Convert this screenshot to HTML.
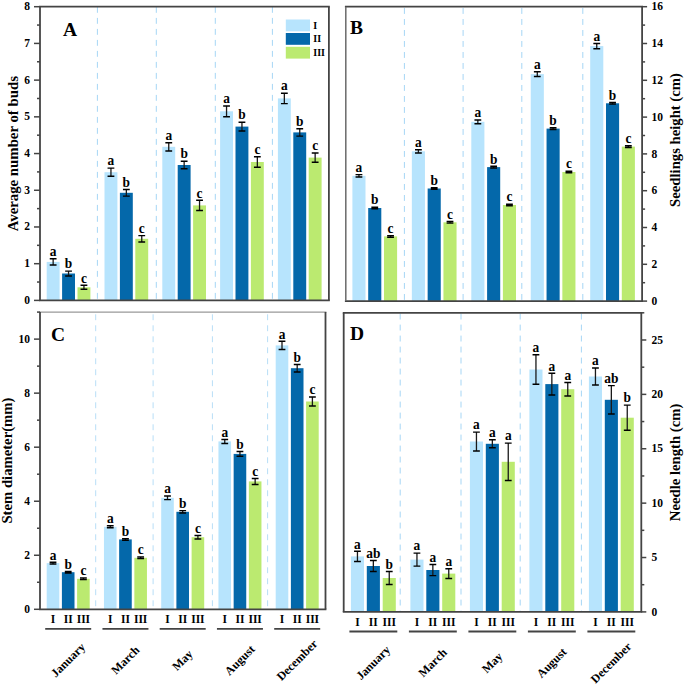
<!DOCTYPE html>
<html><head><meta charset="utf-8"><style>
html,body{margin:0;padding:0;background:#fff;}
svg{display:block;}
</style></head><body>
<svg width="685" height="686" viewBox="0 0 685 686">
<rect width="685" height="686" fill="#fff"/>
<line x1="97.4" y1="6.90" x2="97.4" y2="300.4" stroke="#a6d6f5" stroke-width="1" stroke-dasharray="5.9 5.1"/>
<line x1="156.3" y1="6.90" x2="156.3" y2="300.4" stroke="#a6d6f5" stroke-width="1" stroke-dasharray="5.9 5.1"/>
<line x1="215.3" y1="6.90" x2="215.3" y2="300.4" stroke="#a6d6f5" stroke-width="1" stroke-dasharray="5.9 5.1"/>
<line x1="272.4" y1="6.90" x2="272.4" y2="300.4" stroke="#a6d6f5" stroke-width="1" stroke-dasharray="5.9 5.1"/>
<rect x="46.70" y="261.9" width="12.9" height="38.50" fill="#b7e4fd"/>
<rect x="62.10" y="273.5" width="12.9" height="26.90" fill="#0468aa"/>
<rect x="77.50" y="287.3" width="12.9" height="13.10" fill="#bbea70"/>
<rect x="104.50" y="172.2" width="12.9" height="128.20" fill="#b7e4fd"/>
<rect x="119.90" y="192.8" width="12.9" height="107.60" fill="#0468aa"/>
<rect x="135.30" y="238.8" width="12.9" height="61.60" fill="#bbea70"/>
<rect x="162.30" y="146.8" width="12.9" height="153.60" fill="#b7e4fd"/>
<rect x="177.70" y="165.0" width="12.9" height="135.40" fill="#0468aa"/>
<rect x="193.10" y="205.4" width="12.9" height="95.00" fill="#bbea70"/>
<rect x="220.10" y="111.3" width="12.9" height="189.10" fill="#b7e4fd"/>
<rect x="235.50" y="126.6" width="12.9" height="173.80" fill="#0468aa"/>
<rect x="250.90" y="162.0" width="12.9" height="138.40" fill="#bbea70"/>
<rect x="277.90" y="98.4" width="12.9" height="202.00" fill="#b7e4fd"/>
<rect x="293.30" y="132.4" width="12.9" height="168.00" fill="#0468aa"/>
<rect x="308.70" y="157.6" width="12.9" height="142.80" fill="#bbea70"/>
<path d="M53.15 258.80V265.00" stroke="#1a1a1a" stroke-width="1.3" fill="none"/>
<path d="M49.75 258.80h6.8M49.75 265.00h6.8" stroke="#000" stroke-width="1.45" fill="none"/>
<text transform="translate(53.15,256.00) scale(1,1.1)" text-anchor="middle" style="font-family:'Liberation Serif',serif;font-weight:bold;font-size:13.4px">a</text>
<path d="M68.55 271.10V275.90" stroke="#1a1a1a" stroke-width="1.3" fill="none"/>
<path d="M65.15 271.10h6.8M65.15 275.90h6.8" stroke="#000" stroke-width="1.45" fill="none"/>
<text transform="translate(68.55,268.30) scale(1,1.1)" text-anchor="middle" style="font-family:'Liberation Serif',serif;font-weight:bold;font-size:13.4px">b</text>
<path d="M83.95 285.30V289.30" stroke="#1a1a1a" stroke-width="1.3" fill="none"/>
<path d="M80.55 285.30h6.8M80.55 289.30h6.8" stroke="#000" stroke-width="1.45" fill="none"/>
<text transform="translate(83.95,282.50) scale(1,1.1)" text-anchor="middle" style="font-family:'Liberation Serif',serif;font-weight:bold;font-size:13.4px">c</text>
<path d="M110.95 168.10V176.30" stroke="#1a1a1a" stroke-width="1.3" fill="none"/>
<path d="M107.55 168.10h6.8M107.55 176.30h6.8" stroke="#000" stroke-width="1.45" fill="none"/>
<text transform="translate(110.95,165.30) scale(1,1.1)" text-anchor="middle" style="font-family:'Liberation Serif',serif;font-weight:bold;font-size:13.4px">a</text>
<path d="M126.35 189.50V196.10" stroke="#1a1a1a" stroke-width="1.3" fill="none"/>
<path d="M122.95 189.50h6.8M122.95 196.10h6.8" stroke="#000" stroke-width="1.45" fill="none"/>
<text transform="translate(126.35,186.70) scale(1,1.1)" text-anchor="middle" style="font-family:'Liberation Serif',serif;font-weight:bold;font-size:13.4px">b</text>
<path d="M141.75 235.60V242.00" stroke="#1a1a1a" stroke-width="1.3" fill="none"/>
<path d="M138.35 235.60h6.8M138.35 242.00h6.8" stroke="#000" stroke-width="1.45" fill="none"/>
<text transform="translate(141.75,232.80) scale(1,1.1)" text-anchor="middle" style="font-family:'Liberation Serif',serif;font-weight:bold;font-size:13.4px">c</text>
<path d="M168.75 142.70V150.90" stroke="#1a1a1a" stroke-width="1.3" fill="none"/>
<path d="M165.35 142.70h6.8M165.35 150.90h6.8" stroke="#000" stroke-width="1.45" fill="none"/>
<text transform="translate(168.75,139.90) scale(1,1.1)" text-anchor="middle" style="font-family:'Liberation Serif',serif;font-weight:bold;font-size:13.4px">a</text>
<path d="M184.15 161.20V168.80" stroke="#1a1a1a" stroke-width="1.3" fill="none"/>
<path d="M180.75 161.20h6.8M180.75 168.80h6.8" stroke="#000" stroke-width="1.45" fill="none"/>
<text transform="translate(184.15,158.40) scale(1,1.1)" text-anchor="middle" style="font-family:'Liberation Serif',serif;font-weight:bold;font-size:13.4px">b</text>
<path d="M199.55 200.30V210.50" stroke="#1a1a1a" stroke-width="1.3" fill="none"/>
<path d="M196.15 200.30h6.8M196.15 210.50h6.8" stroke="#000" stroke-width="1.45" fill="none"/>
<text transform="translate(199.55,197.50) scale(1,1.1)" text-anchor="middle" style="font-family:'Liberation Serif',serif;font-weight:bold;font-size:13.4px">c</text>
<path d="M226.55 105.90V116.70" stroke="#1a1a1a" stroke-width="1.3" fill="none"/>
<path d="M223.15 105.90h6.8M223.15 116.70h6.8" stroke="#000" stroke-width="1.45" fill="none"/>
<text transform="translate(226.55,103.10) scale(1,1.1)" text-anchor="middle" style="font-family:'Liberation Serif',serif;font-weight:bold;font-size:13.4px">a</text>
<path d="M241.95 122.20V131.00" stroke="#1a1a1a" stroke-width="1.3" fill="none"/>
<path d="M238.55 122.20h6.8M238.55 131.00h6.8" stroke="#000" stroke-width="1.45" fill="none"/>
<text transform="translate(241.95,119.40) scale(1,1.1)" text-anchor="middle" style="font-family:'Liberation Serif',serif;font-weight:bold;font-size:13.4px">b</text>
<path d="M257.35 156.80V167.20" stroke="#1a1a1a" stroke-width="1.3" fill="none"/>
<path d="M253.95 156.80h6.8M253.95 167.20h6.8" stroke="#000" stroke-width="1.45" fill="none"/>
<text transform="translate(257.35,154.00) scale(1,1.1)" text-anchor="middle" style="font-family:'Liberation Serif',serif;font-weight:bold;font-size:13.4px">c</text>
<path d="M284.35 93.20V103.60" stroke="#1a1a1a" stroke-width="1.3" fill="none"/>
<path d="M280.95 93.20h6.8M280.95 103.60h6.8" stroke="#000" stroke-width="1.45" fill="none"/>
<text transform="translate(284.35,90.40) scale(1,1.1)" text-anchor="middle" style="font-family:'Liberation Serif',serif;font-weight:bold;font-size:13.4px">a</text>
<path d="M299.75 128.70V136.10" stroke="#1a1a1a" stroke-width="1.3" fill="none"/>
<path d="M296.35 128.70h6.8M296.35 136.10h6.8" stroke="#000" stroke-width="1.45" fill="none"/>
<text transform="translate(299.75,125.90) scale(1,1.1)" text-anchor="middle" style="font-family:'Liberation Serif',serif;font-weight:bold;font-size:13.4px">b</text>
<path d="M315.15 153.00V162.20" stroke="#1a1a1a" stroke-width="1.3" fill="none"/>
<path d="M311.75 153.00h6.8M311.75 162.20h6.8" stroke="#000" stroke-width="1.45" fill="none"/>
<text transform="translate(315.15,150.20) scale(1,1.1)" text-anchor="middle" style="font-family:'Liberation Serif',serif;font-weight:bold;font-size:13.4px">c</text>
<path d="M39.1 6.7H329.79999999999995" stroke="#444444" stroke-width="1.8"/>
<path d="M39.1 300.4H329.79999999999995" stroke="#444444" stroke-width="1.8"/>
<path d="M40.0 6.7V300.4" stroke="#444444" stroke-width="1.8"/>
<path d="M328.9 6.7V300.4" stroke="#444444" stroke-width="1.8"/>
<line x1="404.4" y1="8.00" x2="404.4" y2="301.1" stroke="#a6d6f5" stroke-width="1" stroke-dasharray="5.9 5.1"/>
<line x1="463.1" y1="8.00" x2="463.1" y2="301.1" stroke="#a6d6f5" stroke-width="1" stroke-dasharray="5.9 5.1"/>
<line x1="521.8" y1="8.00" x2="521.8" y2="301.1" stroke="#a6d6f5" stroke-width="1" stroke-dasharray="5.9 5.1"/>
<line x1="582.8" y1="8.00" x2="582.8" y2="301.1" stroke="#a6d6f5" stroke-width="1" stroke-dasharray="5.9 5.1"/>
<rect x="352.40" y="175.8" width="13.1" height="125.30" fill="#b7e4fd"/>
<rect x="368.20" y="208.0" width="13.1" height="93.10" fill="#0468aa"/>
<rect x="384.00" y="236.4" width="13.1" height="64.70" fill="#bbea70"/>
<rect x="411.85" y="151.3" width="13.1" height="149.80" fill="#b7e4fd"/>
<rect x="427.65" y="188.5" width="13.1" height="112.60" fill="#0468aa"/>
<rect x="443.45" y="222.3" width="13.1" height="78.80" fill="#bbea70"/>
<rect x="471.30" y="121.8" width="13.1" height="179.30" fill="#b7e4fd"/>
<rect x="487.10" y="167.1" width="13.1" height="134.00" fill="#0468aa"/>
<rect x="502.90" y="205.0" width="13.1" height="96.10" fill="#bbea70"/>
<rect x="530.75" y="74.1" width="13.1" height="227.00" fill="#b7e4fd"/>
<rect x="546.55" y="128.6" width="13.1" height="172.50" fill="#0468aa"/>
<rect x="562.35" y="172.0" width="13.1" height="129.10" fill="#bbea70"/>
<rect x="590.20" y="46.1" width="13.1" height="255.00" fill="#b7e4fd"/>
<rect x="606.00" y="103.3" width="13.1" height="197.80" fill="#0468aa"/>
<rect x="621.80" y="146.6" width="13.1" height="154.50" fill="#bbea70"/>
<path d="M358.95 174.60V177.00" stroke="#1a1a1a" stroke-width="1.3" fill="none"/>
<path d="M355.55 174.60h6.8M355.55 177.00h6.8" stroke="#000" stroke-width="1.45" fill="none"/>
<text transform="translate(358.95,171.80) scale(1,1.1)" text-anchor="middle" style="font-family:'Liberation Serif',serif;font-weight:bold;font-size:13.4px">a</text>
<path d="M374.75 207.20V208.80" stroke="#1a1a1a" stroke-width="1.3" fill="none"/>
<path d="M371.35 207.20h6.8M371.35 208.80h6.8" stroke="#000" stroke-width="1.45" fill="none"/>
<text transform="translate(374.75,204.40) scale(1,1.1)" text-anchor="middle" style="font-family:'Liberation Serif',serif;font-weight:bold;font-size:13.4px">b</text>
<path d="M390.55 235.60V237.20" stroke="#1a1a1a" stroke-width="1.3" fill="none"/>
<path d="M387.15 235.60h6.8M387.15 237.20h6.8" stroke="#000" stroke-width="1.45" fill="none"/>
<text transform="translate(390.55,232.80) scale(1,1.1)" text-anchor="middle" style="font-family:'Liberation Serif',serif;font-weight:bold;font-size:13.4px">c</text>
<path d="M418.40 149.70V152.90" stroke="#1a1a1a" stroke-width="1.3" fill="none"/>
<path d="M415.00 149.70h6.8M415.00 152.90h6.8" stroke="#000" stroke-width="1.45" fill="none"/>
<text transform="translate(418.40,146.90) scale(1,1.1)" text-anchor="middle" style="font-family:'Liberation Serif',serif;font-weight:bold;font-size:13.4px">a</text>
<path d="M434.20 187.70V189.30" stroke="#1a1a1a" stroke-width="1.3" fill="none"/>
<path d="M430.80 187.70h6.8M430.80 189.30h6.8" stroke="#000" stroke-width="1.45" fill="none"/>
<text transform="translate(434.20,184.90) scale(1,1.1)" text-anchor="middle" style="font-family:'Liberation Serif',serif;font-weight:bold;font-size:13.4px">b</text>
<path d="M450.00 221.50V223.10" stroke="#1a1a1a" stroke-width="1.3" fill="none"/>
<path d="M446.60 221.50h6.8M446.60 223.10h6.8" stroke="#000" stroke-width="1.45" fill="none"/>
<text transform="translate(450.00,218.70) scale(1,1.1)" text-anchor="middle" style="font-family:'Liberation Serif',serif;font-weight:bold;font-size:13.4px">c</text>
<path d="M477.85 119.90V123.70" stroke="#1a1a1a" stroke-width="1.3" fill="none"/>
<path d="M474.45 119.90h6.8M474.45 123.70h6.8" stroke="#000" stroke-width="1.45" fill="none"/>
<text transform="translate(477.85,117.10) scale(1,1.1)" text-anchor="middle" style="font-family:'Liberation Serif',serif;font-weight:bold;font-size:13.4px">a</text>
<path d="M493.65 166.30V167.90" stroke="#1a1a1a" stroke-width="1.3" fill="none"/>
<path d="M490.25 166.30h6.8M490.25 167.90h6.8" stroke="#000" stroke-width="1.45" fill="none"/>
<text transform="translate(493.65,163.50) scale(1,1.1)" text-anchor="middle" style="font-family:'Liberation Serif',serif;font-weight:bold;font-size:13.4px">b</text>
<path d="M509.45 204.20V205.80" stroke="#1a1a1a" stroke-width="1.3" fill="none"/>
<path d="M506.05 204.20h6.8M506.05 205.80h6.8" stroke="#000" stroke-width="1.45" fill="none"/>
<text transform="translate(509.45,201.40) scale(1,1.1)" text-anchor="middle" style="font-family:'Liberation Serif',serif;font-weight:bold;font-size:13.4px">c</text>
<path d="M537.30 71.80V76.40" stroke="#1a1a1a" stroke-width="1.3" fill="none"/>
<path d="M533.90 71.80h6.8M533.90 76.40h6.8" stroke="#000" stroke-width="1.45" fill="none"/>
<text transform="translate(537.30,69.00) scale(1,1.1)" text-anchor="middle" style="font-family:'Liberation Serif',serif;font-weight:bold;font-size:13.4px">a</text>
<path d="M553.10 127.80V129.40" stroke="#1a1a1a" stroke-width="1.3" fill="none"/>
<path d="M549.70 127.80h6.8M549.70 129.40h6.8" stroke="#000" stroke-width="1.45" fill="none"/>
<text transform="translate(553.10,125.00) scale(1,1.1)" text-anchor="middle" style="font-family:'Liberation Serif',serif;font-weight:bold;font-size:13.4px">b</text>
<path d="M568.90 171.20V172.80" stroke="#1a1a1a" stroke-width="1.3" fill="none"/>
<path d="M565.50 171.20h6.8M565.50 172.80h6.8" stroke="#000" stroke-width="1.45" fill="none"/>
<text transform="translate(568.90,168.40) scale(1,1.1)" text-anchor="middle" style="font-family:'Liberation Serif',serif;font-weight:bold;font-size:13.4px">c</text>
<path d="M596.75 43.50V48.70" stroke="#1a1a1a" stroke-width="1.3" fill="none"/>
<path d="M593.35 43.50h6.8M593.35 48.70h6.8" stroke="#000" stroke-width="1.45" fill="none"/>
<text transform="translate(596.75,40.70) scale(1,1.1)" text-anchor="middle" style="font-family:'Liberation Serif',serif;font-weight:bold;font-size:13.4px">a</text>
<path d="M612.55 102.50V104.10" stroke="#1a1a1a" stroke-width="1.3" fill="none"/>
<path d="M609.15 102.50h6.8M609.15 104.10h6.8" stroke="#000" stroke-width="1.45" fill="none"/>
<text transform="translate(612.55,99.70) scale(1,1.1)" text-anchor="middle" style="font-family:'Liberation Serif',serif;font-weight:bold;font-size:13.4px">b</text>
<path d="M628.35 145.80V147.40" stroke="#1a1a1a" stroke-width="1.3" fill="none"/>
<path d="M624.95 145.80h6.8M624.95 147.40h6.8" stroke="#000" stroke-width="1.45" fill="none"/>
<text transform="translate(628.35,143.00) scale(1,1.1)" text-anchor="middle" style="font-family:'Liberation Serif',serif;font-weight:bold;font-size:13.4px">c</text>
<path d="M344.90000000000003 6.7H643.0" stroke="#444444" stroke-width="1.8"/>
<path d="M344.90000000000003 301.1H643.0" stroke="#444444" stroke-width="1.8"/>
<path d="M345.8 6.7V301.1" stroke="#6a6a6a" stroke-width="1.5"/>
<path d="M642.1 6.7V301.1" stroke="#444444" stroke-width="1.8"/>
<line x1="95.7" y1="314.30" x2="95.7" y2="609.3" stroke="#b8def7" stroke-width="1" stroke-dasharray="5.9 5.1"/>
<line x1="153.1" y1="314.30" x2="153.1" y2="609.3" stroke="#b8def7" stroke-width="1" stroke-dasharray="5.9 5.1"/>
<line x1="212.4" y1="314.30" x2="212.4" y2="609.3" stroke="#b8def7" stroke-width="1" stroke-dasharray="5.9 5.1"/>
<line x1="267.6" y1="314.30" x2="267.6" y2="609.3" stroke="#b8def7" stroke-width="1" stroke-dasharray="5.9 5.1"/>
<rect x="46.70" y="563.1" width="12.6" height="46.20" fill="#b7e4fd"/>
<rect x="61.90" y="572.2" width="12.6" height="37.10" fill="#0468aa"/>
<rect x="77.10" y="578.8" width="12.6" height="30.50" fill="#bbea70"/>
<rect x="103.95" y="526.8" width="12.6" height="82.50" fill="#b7e4fd"/>
<rect x="119.15" y="539.4" width="12.6" height="69.90" fill="#0468aa"/>
<rect x="134.35" y="557.8" width="12.6" height="51.50" fill="#bbea70"/>
<rect x="161.20" y="497.8" width="12.6" height="111.50" fill="#b7e4fd"/>
<rect x="176.40" y="511.8" width="12.6" height="97.50" fill="#0468aa"/>
<rect x="191.60" y="537.2" width="12.6" height="72.10" fill="#bbea70"/>
<rect x="218.45" y="441.4" width="12.6" height="167.90" fill="#b7e4fd"/>
<rect x="233.65" y="453.9" width="12.6" height="155.40" fill="#0468aa"/>
<rect x="248.85" y="481.4" width="12.6" height="127.90" fill="#bbea70"/>
<rect x="275.70" y="345.4" width="12.6" height="263.90" fill="#b7e4fd"/>
<rect x="290.90" y="368.2" width="12.6" height="241.10" fill="#0468aa"/>
<rect x="306.10" y="401.5" width="12.6" height="207.80" fill="#bbea70"/>
<path d="M53.00 562.30V563.90" stroke="#1a1a1a" stroke-width="1.3" fill="none"/>
<path d="M49.60 562.30h6.8M49.60 563.90h6.8" stroke="#000" stroke-width="1.45" fill="none"/>
<text transform="translate(53.00,559.50) scale(1,1.1)" text-anchor="middle" style="font-family:'Liberation Serif',serif;font-weight:bold;font-size:13.4px">a</text>
<path d="M68.20 571.40V573.00" stroke="#1a1a1a" stroke-width="1.3" fill="none"/>
<path d="M64.80 571.40h6.8M64.80 573.00h6.8" stroke="#000" stroke-width="1.45" fill="none"/>
<text transform="translate(68.20,568.60) scale(1,1.1)" text-anchor="middle" style="font-family:'Liberation Serif',serif;font-weight:bold;font-size:13.4px">b</text>
<path d="M83.40 578.00V579.60" stroke="#1a1a1a" stroke-width="1.3" fill="none"/>
<path d="M80.00 578.00h6.8M80.00 579.60h6.8" stroke="#000" stroke-width="1.45" fill="none"/>
<text transform="translate(83.40,575.20) scale(1,1.1)" text-anchor="middle" style="font-family:'Liberation Serif',serif;font-weight:bold;font-size:13.4px">c</text>
<path d="M110.25 525.80V527.80" stroke="#1a1a1a" stroke-width="1.3" fill="none"/>
<path d="M106.85 525.80h6.8M106.85 527.80h6.8" stroke="#000" stroke-width="1.45" fill="none"/>
<text transform="translate(110.25,523.00) scale(1,1.1)" text-anchor="middle" style="font-family:'Liberation Serif',serif;font-weight:bold;font-size:13.4px">a</text>
<path d="M125.45 538.60V540.20" stroke="#1a1a1a" stroke-width="1.3" fill="none"/>
<path d="M122.05 538.60h6.8M122.05 540.20h6.8" stroke="#000" stroke-width="1.45" fill="none"/>
<text transform="translate(125.45,535.80) scale(1,1.1)" text-anchor="middle" style="font-family:'Liberation Serif',serif;font-weight:bold;font-size:13.4px">b</text>
<path d="M140.65 557.00V558.60" stroke="#1a1a1a" stroke-width="1.3" fill="none"/>
<path d="M137.25 557.00h6.8M137.25 558.60h6.8" stroke="#000" stroke-width="1.45" fill="none"/>
<text transform="translate(140.65,554.20) scale(1,1.1)" text-anchor="middle" style="font-family:'Liberation Serif',serif;font-weight:bold;font-size:13.4px">c</text>
<path d="M167.50 496.00V499.60" stroke="#1a1a1a" stroke-width="1.3" fill="none"/>
<path d="M164.10 496.00h6.8M164.10 499.60h6.8" stroke="#000" stroke-width="1.45" fill="none"/>
<text transform="translate(167.50,493.20) scale(1,1.1)" text-anchor="middle" style="font-family:'Liberation Serif',serif;font-weight:bold;font-size:13.4px">a</text>
<path d="M182.70 510.60V513.00" stroke="#1a1a1a" stroke-width="1.3" fill="none"/>
<path d="M179.30 510.60h6.8M179.30 513.00h6.8" stroke="#000" stroke-width="1.45" fill="none"/>
<text transform="translate(182.70,507.80) scale(1,1.1)" text-anchor="middle" style="font-family:'Liberation Serif',serif;font-weight:bold;font-size:13.4px">b</text>
<path d="M197.90 535.40V539.00" stroke="#1a1a1a" stroke-width="1.3" fill="none"/>
<path d="M194.50 535.40h6.8M194.50 539.00h6.8" stroke="#000" stroke-width="1.45" fill="none"/>
<text transform="translate(197.90,532.60) scale(1,1.1)" text-anchor="middle" style="font-family:'Liberation Serif',serif;font-weight:bold;font-size:13.4px">c</text>
<path d="M224.75 439.40V443.40" stroke="#1a1a1a" stroke-width="1.3" fill="none"/>
<path d="M221.35 439.40h6.8M221.35 443.40h6.8" stroke="#000" stroke-width="1.45" fill="none"/>
<text transform="translate(224.75,436.60) scale(1,1.1)" text-anchor="middle" style="font-family:'Liberation Serif',serif;font-weight:bold;font-size:13.4px">a</text>
<path d="M239.95 451.50V456.30" stroke="#1a1a1a" stroke-width="1.3" fill="none"/>
<path d="M236.55 451.50h6.8M236.55 456.30h6.8" stroke="#000" stroke-width="1.45" fill="none"/>
<text transform="translate(239.95,448.70) scale(1,1.1)" text-anchor="middle" style="font-family:'Liberation Serif',serif;font-weight:bold;font-size:13.4px">b</text>
<path d="M255.15 478.40V484.40" stroke="#1a1a1a" stroke-width="1.3" fill="none"/>
<path d="M251.75 478.40h6.8M251.75 484.40h6.8" stroke="#000" stroke-width="1.45" fill="none"/>
<text transform="translate(255.15,475.60) scale(1,1.1)" text-anchor="middle" style="font-family:'Liberation Serif',serif;font-weight:bold;font-size:13.4px">c</text>
<path d="M282.00 341.30V349.50" stroke="#1a1a1a" stroke-width="1.3" fill="none"/>
<path d="M278.60 341.30h6.8M278.60 349.50h6.8" stroke="#000" stroke-width="1.45" fill="none"/>
<text transform="translate(282.00,338.50) scale(1,1.1)" text-anchor="middle" style="font-family:'Liberation Serif',serif;font-weight:bold;font-size:13.4px">a</text>
<path d="M297.20 364.50V371.90" stroke="#1a1a1a" stroke-width="1.3" fill="none"/>
<path d="M293.80 364.50h6.8M293.80 371.90h6.8" stroke="#000" stroke-width="1.45" fill="none"/>
<text transform="translate(297.20,361.70) scale(1,1.1)" text-anchor="middle" style="font-family:'Liberation Serif',serif;font-weight:bold;font-size:13.4px">b</text>
<path d="M312.40 397.00V406.00" stroke="#1a1a1a" stroke-width="1.3" fill="none"/>
<path d="M309.00 397.00h6.8M309.00 406.00h6.8" stroke="#000" stroke-width="1.45" fill="none"/>
<text transform="translate(312.40,394.20) scale(1,1.1)" text-anchor="middle" style="font-family:'Liberation Serif',serif;font-weight:bold;font-size:13.4px">c</text>
<path d="M39.1 312.1H326.4" stroke="#999999" stroke-width="1.4"/>
<path d="M39.1 609.3H326.4" stroke="#444444" stroke-width="1.8"/>
<path d="M40.0 312.1V609.3" stroke="#444444" stroke-width="1.8"/>
<path d="M325.5 312.1V609.3" stroke="#444444" stroke-width="1.8"/>
<line x1="400.2" y1="313.60" x2="400.2" y2="611.9" stroke="#a6d6f5" stroke-width="1" stroke-dasharray="5.9 5.1"/>
<line x1="461.0" y1="313.60" x2="461.0" y2="611.9" stroke="#a6d6f5" stroke-width="1" stroke-dasharray="5.9 5.1"/>
<line x1="520.2" y1="313.60" x2="520.2" y2="611.9" stroke="#a6d6f5" stroke-width="1" stroke-dasharray="5.9 5.1"/>
<line x1="581.4" y1="313.60" x2="581.4" y2="611.9" stroke="#a6d6f5" stroke-width="1" stroke-dasharray="5.9 5.1"/>
<rect x="350.90" y="556.4" width="13.1" height="55.50" fill="#b7e4fd"/>
<rect x="366.80" y="566.0" width="13.1" height="45.90" fill="#0468aa"/>
<rect x="382.70" y="578.0" width="13.1" height="33.90" fill="#bbea70"/>
<rect x="410.40" y="559.6" width="13.1" height="52.30" fill="#b7e4fd"/>
<rect x="426.30" y="570.0" width="13.1" height="41.90" fill="#0468aa"/>
<rect x="442.20" y="573.6" width="13.1" height="38.30" fill="#bbea70"/>
<rect x="469.90" y="441.5" width="13.1" height="170.40" fill="#b7e4fd"/>
<rect x="485.80" y="443.8" width="13.1" height="168.10" fill="#0468aa"/>
<rect x="501.70" y="461.8" width="13.1" height="150.10" fill="#bbea70"/>
<rect x="529.40" y="369.5" width="13.1" height="242.40" fill="#b7e4fd"/>
<rect x="545.30" y="384.1" width="13.1" height="227.80" fill="#0468aa"/>
<rect x="561.20" y="389.2" width="13.1" height="222.70" fill="#bbea70"/>
<rect x="588.90" y="376.5" width="13.1" height="235.40" fill="#b7e4fd"/>
<rect x="604.80" y="399.8" width="13.1" height="212.10" fill="#0468aa"/>
<rect x="620.70" y="417.7" width="13.1" height="194.20" fill="#bbea70"/>
<path d="M357.45 551.30V561.50" stroke="#1a1a1a" stroke-width="1.3" fill="none"/>
<path d="M354.05 551.30h6.8M354.05 561.50h6.8" stroke="#000" stroke-width="1.45" fill="none"/>
<text transform="translate(357.45,548.50) scale(1,1.1)" text-anchor="middle" style="font-family:'Liberation Serif',serif;font-weight:bold;font-size:13.4px">a</text>
<path d="M373.35 560.50V571.50" stroke="#1a1a1a" stroke-width="1.3" fill="none"/>
<path d="M369.95 560.50h6.8M369.95 571.50h6.8" stroke="#000" stroke-width="1.45" fill="none"/>
<text transform="translate(373.35,557.70) scale(1,1.1)" text-anchor="middle" style="font-family:'Liberation Serif',serif;font-weight:bold;font-size:13.4px">ab</text>
<path d="M389.25 571.50V584.50" stroke="#1a1a1a" stroke-width="1.3" fill="none"/>
<path d="M385.85 571.50h6.8M385.85 584.50h6.8" stroke="#000" stroke-width="1.45" fill="none"/>
<text transform="translate(389.25,568.70) scale(1,1.1)" text-anchor="middle" style="font-family:'Liberation Serif',serif;font-weight:bold;font-size:13.4px">b</text>
<path d="M416.95 553.10V566.10" stroke="#1a1a1a" stroke-width="1.3" fill="none"/>
<path d="M413.55 553.10h6.8M413.55 566.10h6.8" stroke="#000" stroke-width="1.45" fill="none"/>
<text transform="translate(416.95,550.30) scale(1,1.1)" text-anchor="middle" style="font-family:'Liberation Serif',serif;font-weight:bold;font-size:13.4px">a</text>
<path d="M432.85 564.40V575.60" stroke="#1a1a1a" stroke-width="1.3" fill="none"/>
<path d="M429.45 564.40h6.8M429.45 575.60h6.8" stroke="#000" stroke-width="1.45" fill="none"/>
<text transform="translate(432.85,561.60) scale(1,1.1)" text-anchor="middle" style="font-family:'Liberation Serif',serif;font-weight:bold;font-size:13.4px">a</text>
<path d="M448.75 568.80V578.40" stroke="#1a1a1a" stroke-width="1.3" fill="none"/>
<path d="M445.35 568.80h6.8M445.35 578.40h6.8" stroke="#000" stroke-width="1.45" fill="none"/>
<text transform="translate(448.75,566.00) scale(1,1.1)" text-anchor="middle" style="font-family:'Liberation Serif',serif;font-weight:bold;font-size:13.4px">a</text>
<path d="M476.45 432.10V450.90" stroke="#1a1a1a" stroke-width="1.3" fill="none"/>
<path d="M473.05 432.10h6.8M473.05 450.90h6.8" stroke="#000" stroke-width="1.45" fill="none"/>
<text transform="translate(476.45,429.30) scale(1,1.1)" text-anchor="middle" style="font-family:'Liberation Serif',serif;font-weight:bold;font-size:13.4px">a</text>
<path d="M492.35 439.80V447.80" stroke="#1a1a1a" stroke-width="1.3" fill="none"/>
<path d="M488.95 439.80h6.8M488.95 447.80h6.8" stroke="#000" stroke-width="1.45" fill="none"/>
<text transform="translate(492.35,437.00) scale(1,1.1)" text-anchor="middle" style="font-family:'Liberation Serif',serif;font-weight:bold;font-size:13.4px">a</text>
<path d="M508.25 443.10V480.50" stroke="#1a1a1a" stroke-width="1.3" fill="none"/>
<path d="M504.85 443.10h6.8M504.85 480.50h6.8" stroke="#000" stroke-width="1.45" fill="none"/>
<text transform="translate(508.25,440.30) scale(1,1.1)" text-anchor="middle" style="font-family:'Liberation Serif',serif;font-weight:bold;font-size:13.4px">a</text>
<path d="M535.95 354.80V384.20" stroke="#1a1a1a" stroke-width="1.3" fill="none"/>
<path d="M532.55 354.80h6.8M532.55 384.20h6.8" stroke="#000" stroke-width="1.45" fill="none"/>
<text transform="translate(535.95,352.00) scale(1,1.1)" text-anchor="middle" style="font-family:'Liberation Serif',serif;font-weight:bold;font-size:13.4px">a</text>
<path d="M551.85 373.30V394.90" stroke="#1a1a1a" stroke-width="1.3" fill="none"/>
<path d="M548.45 373.30h6.8M548.45 394.90h6.8" stroke="#000" stroke-width="1.45" fill="none"/>
<text transform="translate(551.85,370.50) scale(1,1.1)" text-anchor="middle" style="font-family:'Liberation Serif',serif;font-weight:bold;font-size:13.4px">a</text>
<path d="M567.75 382.40V396.00" stroke="#1a1a1a" stroke-width="1.3" fill="none"/>
<path d="M564.35 382.40h6.8M564.35 396.00h6.8" stroke="#000" stroke-width="1.45" fill="none"/>
<text transform="translate(567.75,379.60) scale(1,1.1)" text-anchor="middle" style="font-family:'Liberation Serif',serif;font-weight:bold;font-size:13.4px">a</text>
<path d="M595.45 368.00V385.00" stroke="#1a1a1a" stroke-width="1.3" fill="none"/>
<path d="M592.05 368.00h6.8M592.05 385.00h6.8" stroke="#000" stroke-width="1.45" fill="none"/>
<text transform="translate(595.45,365.20) scale(1,1.1)" text-anchor="middle" style="font-family:'Liberation Serif',serif;font-weight:bold;font-size:13.4px">a</text>
<path d="M611.35 385.60V414.00" stroke="#1a1a1a" stroke-width="1.3" fill="none"/>
<path d="M607.95 385.60h6.8M607.95 414.00h6.8" stroke="#000" stroke-width="1.45" fill="none"/>
<text transform="translate(611.35,382.80) scale(1,1.1)" text-anchor="middle" style="font-family:'Liberation Serif',serif;font-weight:bold;font-size:13.4px">ab</text>
<path d="M627.25 405.10V430.30" stroke="#1a1a1a" stroke-width="1.3" fill="none"/>
<path d="M623.85 405.10h6.8M623.85 430.30h6.8" stroke="#000" stroke-width="1.45" fill="none"/>
<text transform="translate(627.25,402.30) scale(1,1.1)" text-anchor="middle" style="font-family:'Liberation Serif',serif;font-weight:bold;font-size:13.4px">b</text>
<path d="M342.8 312.8H642.1999999999999" stroke="#444444" stroke-width="1.8"/>
<path d="M342.8 611.9H642.1999999999999" stroke="#444444" stroke-width="1.8"/>
<path d="M343.7 312.8V611.9" stroke="#444444" stroke-width="1.8"/>
<path d="M641.3 312.8V611.9" stroke="#444444" stroke-width="1.8"/>
<line x1="34.0" y1="300.40" x2="40.0" y2="300.40" stroke="#444444" stroke-width="1.5"/>
<text x="30" y="303.80" text-anchor="end" style="font-family:'Liberation Serif',serif;font-weight:bold;font-size:11.5px">0</text>
<line x1="37.0" y1="282.04" x2="40.0" y2="282.04" stroke="#444444" stroke-width="1.5"/>
<line x1="34.0" y1="263.69" x2="40.0" y2="263.69" stroke="#444444" stroke-width="1.5"/>
<text x="30" y="267.09" text-anchor="end" style="font-family:'Liberation Serif',serif;font-weight:bold;font-size:11.5px">1</text>
<line x1="37.0" y1="245.33" x2="40.0" y2="245.33" stroke="#444444" stroke-width="1.5"/>
<line x1="34.0" y1="226.97" x2="40.0" y2="226.97" stroke="#444444" stroke-width="1.5"/>
<text x="30" y="230.37" text-anchor="end" style="font-family:'Liberation Serif',serif;font-weight:bold;font-size:11.5px">2</text>
<line x1="37.0" y1="208.62" x2="40.0" y2="208.62" stroke="#444444" stroke-width="1.5"/>
<line x1="34.0" y1="190.26" x2="40.0" y2="190.26" stroke="#444444" stroke-width="1.5"/>
<text x="30" y="193.66" text-anchor="end" style="font-family:'Liberation Serif',serif;font-weight:bold;font-size:11.5px">3</text>
<line x1="37.0" y1="171.91" x2="40.0" y2="171.91" stroke="#444444" stroke-width="1.5"/>
<line x1="34.0" y1="153.55" x2="40.0" y2="153.55" stroke="#444444" stroke-width="1.5"/>
<text x="30" y="156.95" text-anchor="end" style="font-family:'Liberation Serif',serif;font-weight:bold;font-size:11.5px">4</text>
<line x1="37.0" y1="135.19" x2="40.0" y2="135.19" stroke="#444444" stroke-width="1.5"/>
<line x1="34.0" y1="116.84" x2="40.0" y2="116.84" stroke="#444444" stroke-width="1.5"/>
<text x="30" y="120.24" text-anchor="end" style="font-family:'Liberation Serif',serif;font-weight:bold;font-size:11.5px">5</text>
<line x1="37.0" y1="98.48" x2="40.0" y2="98.48" stroke="#444444" stroke-width="1.5"/>
<line x1="34.0" y1="80.12" x2="40.0" y2="80.12" stroke="#444444" stroke-width="1.5"/>
<text x="30" y="83.53" text-anchor="end" style="font-family:'Liberation Serif',serif;font-weight:bold;font-size:11.5px">6</text>
<line x1="37.0" y1="61.77" x2="40.0" y2="61.77" stroke="#444444" stroke-width="1.5"/>
<line x1="34.0" y1="43.41" x2="40.0" y2="43.41" stroke="#444444" stroke-width="1.5"/>
<text x="30" y="46.81" text-anchor="end" style="font-family:'Liberation Serif',serif;font-weight:bold;font-size:11.5px">7</text>
<line x1="37.0" y1="25.06" x2="40.0" y2="25.06" stroke="#444444" stroke-width="1.5"/>
<line x1="34.0" y1="6.70" x2="40.0" y2="6.70" stroke="#444444" stroke-width="1.5"/>
<text x="30" y="10.10" text-anchor="end" style="font-family:'Liberation Serif',serif;font-weight:bold;font-size:11.5px">8</text>
<line x1="34.0" y1="609.30" x2="40.0" y2="609.30" stroke="#444444" stroke-width="1.5"/>
<text x="30" y="612.70" text-anchor="end" style="font-family:'Liberation Serif',serif;font-weight:bold;font-size:11.5px">0</text>
<line x1="37.0" y1="582.28" x2="40.0" y2="582.28" stroke="#444444" stroke-width="1.5"/>
<line x1="34.0" y1="555.26" x2="40.0" y2="555.26" stroke="#444444" stroke-width="1.5"/>
<text x="30" y="558.66" text-anchor="end" style="font-family:'Liberation Serif',serif;font-weight:bold;font-size:11.5px">2</text>
<line x1="37.0" y1="528.25" x2="40.0" y2="528.25" stroke="#444444" stroke-width="1.5"/>
<line x1="34.0" y1="501.23" x2="40.0" y2="501.23" stroke="#444444" stroke-width="1.5"/>
<text x="30" y="504.63" text-anchor="end" style="font-family:'Liberation Serif',serif;font-weight:bold;font-size:11.5px">4</text>
<line x1="37.0" y1="474.21" x2="40.0" y2="474.21" stroke="#444444" stroke-width="1.5"/>
<line x1="34.0" y1="447.19" x2="40.0" y2="447.19" stroke="#444444" stroke-width="1.5"/>
<text x="30" y="450.59" text-anchor="end" style="font-family:'Liberation Serif',serif;font-weight:bold;font-size:11.5px">6</text>
<line x1="37.0" y1="420.17" x2="40.0" y2="420.17" stroke="#444444" stroke-width="1.5"/>
<line x1="34.0" y1="393.15" x2="40.0" y2="393.15" stroke="#444444" stroke-width="1.5"/>
<text x="30" y="396.55" text-anchor="end" style="font-family:'Liberation Serif',serif;font-weight:bold;font-size:11.5px">8</text>
<line x1="37.0" y1="366.14" x2="40.0" y2="366.14" stroke="#444444" stroke-width="1.5"/>
<line x1="34.0" y1="339.12" x2="40.0" y2="339.12" stroke="#444444" stroke-width="1.5"/>
<text x="30" y="342.52" text-anchor="end" style="font-family:'Liberation Serif',serif;font-weight:bold;font-size:11.5px">10</text>
<line x1="37.0" y1="312.10" x2="40.0" y2="312.10" stroke="#444444" stroke-width="1.5"/>
<line x1="642.1" y1="301.10" x2="647.1" y2="301.10" stroke="#444444" stroke-width="1.5"/>
<text x="651.5" y="304.80" style="font-family:'Liberation Serif',serif;font-weight:bold;font-size:11.5px">0</text>
<line x1="642.1" y1="282.70" x2="645.1" y2="282.70" stroke="#444444" stroke-width="1.5"/>
<line x1="642.1" y1="264.30" x2="647.1" y2="264.30" stroke="#444444" stroke-width="1.5"/>
<text x="651.5" y="268.00" style="font-family:'Liberation Serif',serif;font-weight:bold;font-size:11.5px">2</text>
<line x1="642.1" y1="245.90" x2="645.1" y2="245.90" stroke="#444444" stroke-width="1.5"/>
<line x1="642.1" y1="227.50" x2="647.1" y2="227.50" stroke="#444444" stroke-width="1.5"/>
<text x="651.5" y="231.20" style="font-family:'Liberation Serif',serif;font-weight:bold;font-size:11.5px">4</text>
<line x1="642.1" y1="209.10" x2="645.1" y2="209.10" stroke="#444444" stroke-width="1.5"/>
<line x1="642.1" y1="190.70" x2="647.1" y2="190.70" stroke="#444444" stroke-width="1.5"/>
<text x="651.5" y="194.40" style="font-family:'Liberation Serif',serif;font-weight:bold;font-size:11.5px">6</text>
<line x1="642.1" y1="172.30" x2="645.1" y2="172.30" stroke="#444444" stroke-width="1.5"/>
<line x1="642.1" y1="153.90" x2="647.1" y2="153.90" stroke="#444444" stroke-width="1.5"/>
<text x="651.5" y="157.60" style="font-family:'Liberation Serif',serif;font-weight:bold;font-size:11.5px">8</text>
<line x1="642.1" y1="135.50" x2="645.1" y2="135.50" stroke="#444444" stroke-width="1.5"/>
<line x1="642.1" y1="117.10" x2="647.1" y2="117.10" stroke="#444444" stroke-width="1.5"/>
<text x="651.5" y="120.80" style="font-family:'Liberation Serif',serif;font-weight:bold;font-size:11.5px">10</text>
<line x1="642.1" y1="98.70" x2="645.1" y2="98.70" stroke="#444444" stroke-width="1.5"/>
<line x1="642.1" y1="80.30" x2="647.1" y2="80.30" stroke="#444444" stroke-width="1.5"/>
<text x="651.5" y="84.00" style="font-family:'Liberation Serif',serif;font-weight:bold;font-size:11.5px">12</text>
<line x1="642.1" y1="61.90" x2="645.1" y2="61.90" stroke="#444444" stroke-width="1.5"/>
<line x1="642.1" y1="43.50" x2="647.1" y2="43.50" stroke="#444444" stroke-width="1.5"/>
<text x="651.5" y="47.20" style="font-family:'Liberation Serif',serif;font-weight:bold;font-size:11.5px">14</text>
<line x1="642.1" y1="25.10" x2="645.1" y2="25.10" stroke="#444444" stroke-width="1.5"/>
<line x1="642.1" y1="6.70" x2="647.1" y2="6.70" stroke="#444444" stroke-width="1.5"/>
<text x="651.5" y="10.40" style="font-family:'Liberation Serif',serif;font-weight:bold;font-size:11.5px">16</text>
<line x1="641.3" y1="611.90" x2="646.3" y2="611.90" stroke="#444444" stroke-width="1.5"/>
<text x="651.5" y="615.60" style="font-family:'Liberation Serif',serif;font-weight:bold;font-size:11.5px">0</text>
<line x1="641.3" y1="584.71" x2="644.3" y2="584.71" stroke="#444444" stroke-width="1.5"/>
<line x1="641.3" y1="557.52" x2="646.3" y2="557.52" stroke="#444444" stroke-width="1.5"/>
<text x="651.5" y="561.22" style="font-family:'Liberation Serif',serif;font-weight:bold;font-size:11.5px">5</text>
<line x1="641.3" y1="530.33" x2="644.3" y2="530.33" stroke="#444444" stroke-width="1.5"/>
<line x1="641.3" y1="503.14" x2="646.3" y2="503.14" stroke="#444444" stroke-width="1.5"/>
<text x="651.5" y="506.84" style="font-family:'Liberation Serif',serif;font-weight:bold;font-size:11.5px">10</text>
<line x1="641.3" y1="475.95" x2="644.3" y2="475.95" stroke="#444444" stroke-width="1.5"/>
<line x1="641.3" y1="448.75" x2="646.3" y2="448.75" stroke="#444444" stroke-width="1.5"/>
<text x="651.5" y="452.45" style="font-family:'Liberation Serif',serif;font-weight:bold;font-size:11.5px">15</text>
<line x1="641.3" y1="421.56" x2="644.3" y2="421.56" stroke="#444444" stroke-width="1.5"/>
<line x1="641.3" y1="394.37" x2="646.3" y2="394.37" stroke="#444444" stroke-width="1.5"/>
<text x="651.5" y="398.07" style="font-family:'Liberation Serif',serif;font-weight:bold;font-size:11.5px">20</text>
<line x1="641.3" y1="367.18" x2="644.3" y2="367.18" stroke="#444444" stroke-width="1.5"/>
<line x1="641.3" y1="339.99" x2="646.3" y2="339.99" stroke="#444444" stroke-width="1.5"/>
<text x="651.5" y="343.69" style="font-family:'Liberation Serif',serif;font-weight:bold;font-size:11.5px">25</text>
<line x1="641.3" y1="312.80" x2="644.3" y2="312.80" stroke="#444444" stroke-width="1.5"/>
<text x="63" y="35.5" style="font-family:'Liberation Serif',serif;font-weight:bold;font-size:19.5px">A</text>
<text x="350" y="33.5" style="font-family:'Liberation Serif',serif;font-weight:bold;font-size:19.5px">B</text>
<text x="51" y="341.3" style="font-family:'Liberation Serif',serif;font-weight:bold;font-size:19.5px">C</text>
<text x="350" y="339.8" style="font-family:'Liberation Serif',serif;font-weight:bold;font-size:19.5px">D</text>
<rect x="285.8" y="19.5" width="24.2" height="11.8" fill="#b7e4fd"/>
<text x="313.3" y="28.70" style="font-family:'Liberation Serif',serif;font-weight:bold;font-size:10px">I</text>
<rect x="285.8" y="33" width="24.2" height="11.8" fill="#0468aa"/>
<text x="313.3" y="42.20" style="font-family:'Liberation Serif',serif;font-weight:bold;font-size:10px">II</text>
<rect x="285.8" y="46.8" width="24.2" height="11.8" fill="#bbea70"/>
<text x="313.3" y="56.00" style="font-family:'Liberation Serif',serif;font-weight:bold;font-size:10px">III</text>
<text transform="translate(18,153.7) rotate(-90)" text-anchor="middle" style="font-family:'Liberation Serif',serif;font-weight:bold;font-size:14.8px">Average number of buds</text>
<text transform="translate(12,460.6) rotate(-90)" text-anchor="middle" style="font-family:'Liberation Serif',serif;font-weight:bold;font-size:14.7px">Stem diameter(mm)</text>
<text transform="translate(679.6,140) rotate(-90)" text-anchor="middle" style="font-family:'Liberation Serif',serif;font-weight:bold;font-size:14.7px">Seedlings height (cm)</text>
<text transform="translate(679.8,462.4) rotate(-90)" text-anchor="middle" style="font-family:'Liberation Serif',serif;font-weight:bold;font-size:14.7px">Needle length (cm)</text>
<text x="53.00" y="623.10" text-anchor="middle" style="font-family:'Liberation Serif',serif;font-weight:bold;font-size:11.5px">I</text>
<text x="68.20" y="623.10" text-anchor="middle" style="font-family:'Liberation Serif',serif;font-weight:bold;font-size:11.5px">II</text>
<text x="83.40" y="623.10" text-anchor="middle" style="font-family:'Liberation Serif',serif;font-weight:bold;font-size:11.5px">III</text>
<line x1="45.20" y1="628.90" x2="91.20" y2="628.90" stroke="#444" stroke-width="1.8"/>
<text transform="translate(68.00,660.10) rotate(-45)" text-anchor="middle" dominant-baseline="central" style="font-family:'Liberation Serif',serif;font-weight:bold;font-size:12px">January</text>
<text x="110.25" y="623.10" text-anchor="middle" style="font-family:'Liberation Serif',serif;font-weight:bold;font-size:11.5px">I</text>
<text x="125.45" y="623.10" text-anchor="middle" style="font-family:'Liberation Serif',serif;font-weight:bold;font-size:11.5px">II</text>
<text x="140.65" y="623.10" text-anchor="middle" style="font-family:'Liberation Serif',serif;font-weight:bold;font-size:11.5px">III</text>
<line x1="102.45" y1="628.90" x2="148.45" y2="628.90" stroke="#444" stroke-width="1.8"/>
<text transform="translate(125.25,660.10) rotate(-45)" text-anchor="middle" dominant-baseline="central" style="font-family:'Liberation Serif',serif;font-weight:bold;font-size:12px">March</text>
<text x="167.50" y="623.10" text-anchor="middle" style="font-family:'Liberation Serif',serif;font-weight:bold;font-size:11.5px">I</text>
<text x="182.70" y="623.10" text-anchor="middle" style="font-family:'Liberation Serif',serif;font-weight:bold;font-size:11.5px">II</text>
<text x="197.90" y="623.10" text-anchor="middle" style="font-family:'Liberation Serif',serif;font-weight:bold;font-size:11.5px">III</text>
<line x1="159.70" y1="628.90" x2="205.70" y2="628.90" stroke="#444" stroke-width="1.8"/>
<text transform="translate(182.50,660.10) rotate(-45)" text-anchor="middle" dominant-baseline="central" style="font-family:'Liberation Serif',serif;font-weight:bold;font-size:12px">May</text>
<text x="224.75" y="623.10" text-anchor="middle" style="font-family:'Liberation Serif',serif;font-weight:bold;font-size:11.5px">I</text>
<text x="239.95" y="623.10" text-anchor="middle" style="font-family:'Liberation Serif',serif;font-weight:bold;font-size:11.5px">II</text>
<text x="255.15" y="623.10" text-anchor="middle" style="font-family:'Liberation Serif',serif;font-weight:bold;font-size:11.5px">III</text>
<line x1="216.95" y1="628.90" x2="262.95" y2="628.90" stroke="#444" stroke-width="1.8"/>
<text transform="translate(239.75,660.10) rotate(-45)" text-anchor="middle" dominant-baseline="central" style="font-family:'Liberation Serif',serif;font-weight:bold;font-size:12px">August</text>
<text x="282.00" y="623.10" text-anchor="middle" style="font-family:'Liberation Serif',serif;font-weight:bold;font-size:11.5px">I</text>
<text x="297.20" y="623.10" text-anchor="middle" style="font-family:'Liberation Serif',serif;font-weight:bold;font-size:11.5px">II</text>
<text x="312.40" y="623.10" text-anchor="middle" style="font-family:'Liberation Serif',serif;font-weight:bold;font-size:11.5px">III</text>
<line x1="274.20" y1="628.90" x2="320.20" y2="628.90" stroke="#444" stroke-width="1.8"/>
<text transform="translate(297.00,660.10) rotate(-45)" text-anchor="middle" dominant-baseline="central" style="font-family:'Liberation Serif',serif;font-weight:bold;font-size:12px">December</text>
<text x="357.45" y="625.70" text-anchor="middle" style="font-family:'Liberation Serif',serif;font-weight:bold;font-size:11.5px">I</text>
<text x="373.35" y="625.70" text-anchor="middle" style="font-family:'Liberation Serif',serif;font-weight:bold;font-size:11.5px">II</text>
<text x="389.25" y="625.70" text-anchor="middle" style="font-family:'Liberation Serif',serif;font-weight:bold;font-size:11.5px">III</text>
<line x1="349.40" y1="631.50" x2="397.30" y2="631.50" stroke="#444" stroke-width="1.8"/>
<text transform="translate(373.15,662.70) rotate(-45)" text-anchor="middle" dominant-baseline="central" style="font-family:'Liberation Serif',serif;font-weight:bold;font-size:12px">January</text>
<text x="416.95" y="625.70" text-anchor="middle" style="font-family:'Liberation Serif',serif;font-weight:bold;font-size:11.5px">I</text>
<text x="432.85" y="625.70" text-anchor="middle" style="font-family:'Liberation Serif',serif;font-weight:bold;font-size:11.5px">II</text>
<text x="448.75" y="625.70" text-anchor="middle" style="font-family:'Liberation Serif',serif;font-weight:bold;font-size:11.5px">III</text>
<line x1="408.90" y1="631.50" x2="456.80" y2="631.50" stroke="#444" stroke-width="1.8"/>
<text transform="translate(432.65,662.70) rotate(-45)" text-anchor="middle" dominant-baseline="central" style="font-family:'Liberation Serif',serif;font-weight:bold;font-size:12px">March</text>
<text x="476.45" y="625.70" text-anchor="middle" style="font-family:'Liberation Serif',serif;font-weight:bold;font-size:11.5px">I</text>
<text x="492.35" y="625.70" text-anchor="middle" style="font-family:'Liberation Serif',serif;font-weight:bold;font-size:11.5px">II</text>
<text x="508.25" y="625.70" text-anchor="middle" style="font-family:'Liberation Serif',serif;font-weight:bold;font-size:11.5px">III</text>
<line x1="468.40" y1="631.50" x2="516.30" y2="631.50" stroke="#444" stroke-width="1.8"/>
<text transform="translate(492.15,662.70) rotate(-45)" text-anchor="middle" dominant-baseline="central" style="font-family:'Liberation Serif',serif;font-weight:bold;font-size:12px">May</text>
<text x="535.95" y="625.70" text-anchor="middle" style="font-family:'Liberation Serif',serif;font-weight:bold;font-size:11.5px">I</text>
<text x="551.85" y="625.70" text-anchor="middle" style="font-family:'Liberation Serif',serif;font-weight:bold;font-size:11.5px">II</text>
<text x="567.75" y="625.70" text-anchor="middle" style="font-family:'Liberation Serif',serif;font-weight:bold;font-size:11.5px">III</text>
<line x1="527.90" y1="631.50" x2="575.80" y2="631.50" stroke="#444" stroke-width="1.8"/>
<text transform="translate(551.65,662.70) rotate(-45)" text-anchor="middle" dominant-baseline="central" style="font-family:'Liberation Serif',serif;font-weight:bold;font-size:12px">August</text>
<text x="595.45" y="625.70" text-anchor="middle" style="font-family:'Liberation Serif',serif;font-weight:bold;font-size:11.5px">I</text>
<text x="611.35" y="625.70" text-anchor="middle" style="font-family:'Liberation Serif',serif;font-weight:bold;font-size:11.5px">II</text>
<text x="627.25" y="625.70" text-anchor="middle" style="font-family:'Liberation Serif',serif;font-weight:bold;font-size:11.5px">III</text>
<line x1="587.40" y1="631.50" x2="635.30" y2="631.50" stroke="#444" stroke-width="1.8"/>
<text transform="translate(611.15,662.70) rotate(-45)" text-anchor="middle" dominant-baseline="central" style="font-family:'Liberation Serif',serif;font-weight:bold;font-size:12px">December</text>
</svg>
</body></html>
